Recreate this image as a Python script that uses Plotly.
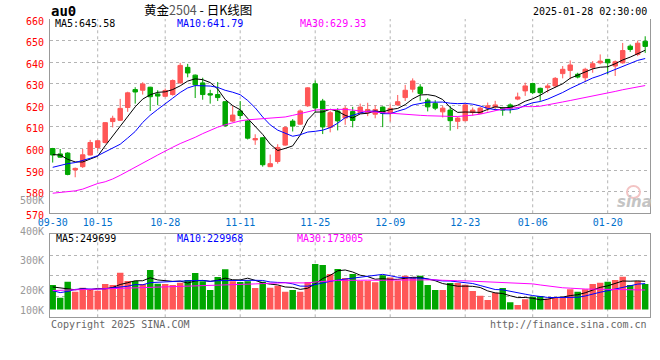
import plotly.graph_objects as go

# ---------------- data ----------------
tick_labels = ["09-30", "10-15", "10-28", "11-11", "11-25", "12-09", "12-23", "01-06", "01-20"]
tick_index = [0, 6, 15, 25, 35, 45, 55, 64, 74]

open_ = [600.0, 597.5, 597.9, 590.1, 591.6, 597.0, 600.5, 602.8, 612.5, 613.1,
         619.0, 627.3, 627.0, 628.4, 625.3, 624.2, 625.0, 630.4, 637.6, 634.0,
         630.4, 625.4, 625.0, 621.7, 612.7, 617.4, 612.8, 604.0, 605.0, 591.6,
         594.0, 601.6, 612.7, 611.3, 619.8, 630.0, 622.0, 609.8, 617.4, 614.1,
         617.1, 616.6, 616.6, 615.9, 619.2, 616.3, 620.2, 623.6, 627.5, 628.5,
         622.4, 620.9, 617.0, 617.8, 612.6, 612.9, 616.7, 616.3, 618.7, 619.3,
         618.7, 620.2, 622.9, 626.7, 630.1, 627.9, 628.2, 629.0, 634.7, 636.2,
         634.4, 632.8, 637.4, 639.7, 641.3, 638.2, 639.7, 647.4, 643.6, 649.7]
high = [600.3, 599.8, 598.3, 591.2, 599.8, 604.0, 603.9, 612.2, 615.2, 623.0,
        626.3, 628.4, 630.7, 628.6, 627.0, 627.8, 632.0, 639.7, 639.2, 634.3,
        632.8, 627.2, 630.8, 622.0, 619.8, 622.0, 613.2, 606.6, 605.3, 597.2,
        602.0, 610.3, 613.6, 618.1, 628.4, 631.5, 623.0, 617.5, 618.7, 619.8,
        619.3, 620.8, 621.2, 620.0, 619.5, 620.4, 624.8, 629.5, 632.5, 629.8,
        623.3, 622.4, 619.8, 619.8, 614.7, 620.6, 619.0, 619.3, 621.3, 622.1,
        619.3, 620.9, 625.9, 630.5, 630.5, 628.2, 630.1, 633.1, 638.2, 640.8,
        635.1, 637.4, 640.5, 643.6, 641.5, 640.8, 648.9, 648.2, 650.0, 652.0]
low = [593.5, 595.8, 587.6, 586.7, 591.0, 596.8, 599.0, 602.3, 609.8, 612.8,
       617.0, 620.8, 625.0, 617.4, 620.1, 623.8, 624.5, 630.0, 633.0, 623.4,
       622.6, 620.8, 622.0, 610.1, 612.3, 613.6, 604.2, 601.7, 591.6, 591.4,
       593.0, 601.3, 607.9, 611.0, 619.3, 616.7, 606.7, 607.5, 608.4, 611.0,
       609.8, 616.0, 615.0, 614.0, 609.9, 612.5, 619.8, 622.0, 626.0, 622.1,
       617.2, 617.8, 614.4, 608.3, 609.0, 612.6, 615.2, 616.0, 617.2, 617.5,
       615.2, 616.3, 622.4, 624.4, 625.2, 622.1, 625.9, 628.2, 632.5, 632.1,
       632.5, 631.0, 635.1, 639.0, 634.4, 633.6, 639.3, 644.8, 642.8, 644.3]
close = [597.0, 596.0, 588.0, 590.8, 597.1, 602.8, 603.6, 612.0, 614.0, 618.6,
         625.8, 626.2, 629.9, 624.0, 624.3, 626.9, 631.5, 638.5, 635.0, 629.5,
         625.0, 624.8, 623.6, 610.6, 615.5, 615.3, 604.8, 604.6, 592.5, 593.0,
         600.5, 609.7, 610.4, 617.4, 628.1, 618.8, 610.0, 616.6, 612.8, 618.6,
         613.0, 619.2, 618.1, 618.1, 616.3, 618.6, 621.7, 627.0, 631.3, 625.5,
         619.3, 618.7, 618.7, 612.9, 614.1, 620.2, 617.8, 618.7, 619.8, 620.2,
         617.8, 618.7, 623.9, 629.0, 625.9, 625.9, 629.0, 632.5, 636.7, 638.7,
         633.1, 636.7, 639.3, 640.5, 639.7, 640.2, 645.4, 645.9, 648.8, 647.3]
volume = [217, 105, 247, 158, 193, 173, 166, 226, 217, 326,
          253, 253, 226, 350, 229, 226, 217, 238, 262, 324,
          250, 173, 288, 357, 250, 244, 250, 191, 247, 193,
          210, 158, 173, 158, 244, 404, 395, 315, 359, 279,
          315, 253, 253, 242, 303, 284, 255, 299, 288, 299,
          217, 173, 173, 235, 235, 220, 164, 122, 84, 148,
          191, 64, 40, 91, 114, 120, 95, 111, 111, 180,
          158, 180, 226, 238, 247, 262, 291, 217, 253, 226]
volume = [v * 1000 for v in volume]

# moving-average values before enough bars exist in view
ma5_head = [597.2, 597.0, 595.0, 593.8]
ma10_head = [591.3, 592.3, 593.0, 593.5, 594.4, 595.5, 596.7, 598.5, 600.0]
ma30_head = [579.3, 579.7, 580.0, 580.4, 581.2, 582.6, 583.8, 584.6, 585.9, 587.6,
             589.4, 591.4, 593.3, 595.1, 597.0, 598.9, 600.6, 602.3, 603.7, 605.2,
             606.9, 608.4, 609.9, 611.0, 612.0, 612.8, 613.3, 613.6, 613.8]
vma5_head = [200000, 192000, 178000, 175000]
vma10_head = [167000, 150000, 160000, 178000, 183000, 180000, 180000, 185000, 192000]
vma30_head = [168000, 170000, 172000, 174000, 176000, 178000, 180000, 181000, 183000, 185000,
              187000, 189000, 191000, 193000, 195000, 197000, 199000, 201000, 203000, 205000,
              207000, 209000, 212000, 215000, 218000, 221000, 224000, 227000, 230000]

ma_text = ["MA5:645.58", "MA10:641.79", "MA30:629.33"]
vma_text = ["MA5:249699", "MA10:229968", "MA30:173005"]
price_ticks = [570, 580, 590, 600, 610, 620, 630, 640, 650, 660]


def moving_avg(vals, n, head):
    out = list(head)
    for i in range(n - 1, len(vals)):
        out.append(sum(vals[i - n + 1:i + 1]) / n)
    return out


n = len(close)
xs = list(range(n))
ma5 = moving_avg(close, 5, ma5_head)
ma10 = moving_avg(close, 10, ma10_head)
ma30 = moving_avg(close, 30, ma30_head)
vma5 = moving_avg(volume, 5, vma5_head)
vma10 = moving_avg(volume, 10, vma10_head)
vma30 = moving_avg(volume, 30, vma30_head)

RED = "#ff5757"
GREEN = "#00a600"
MONO = "DejaVu Sans Mono"
W, H = 660, 360


def px_x(p):
    return p / W


def px_y(p):
    return 1 - p / H


fig = go.Figure()

fig.add_trace(go.Candlestick(
    x=xs, open=open_, high=high, low=low, close=close,
    increasing=dict(line=dict(color=RED, width=1), fillcolor=RED),
    decreasing=dict(line=dict(color=GREEN, width=1), fillcolor=GREEN),
    xaxis="x", yaxis="y", hoverinfo="skip"))

for vals, col in [(ma5, "#000000"), (ma10, "#0000ff"), (ma30, "#ff00ff")]:
    fig.add_trace(go.Scatter(x=xs, y=vals, mode="lines", line=dict(color=col, width=1),
                             xaxis="x", yaxis="y", hoverinfo="skip"))

bar_colors = [RED if c >= o else GREEN for o, c in zip(open_, close)]
fig.add_trace(go.Bar(x=xs, y=volume, marker=dict(color=bar_colors, line=dict(width=0)),
                     xaxis="x2", yaxis="y2", hoverinfo="skip"))
for vals, col in [(vma5, "#000000"), (vma10, "#0000ff"), (vma30, "#ff00ff")]:
    fig.add_trace(go.Scatter(x=xs, y=vals, mode="lines", line=dict(color=col, width=1),
                             xaxis="x2", yaxis="y2", hoverinfo="skip"))

xr = [-0.36, 79.64]
xdom = [px_x(50), px_x(650)]
vr = [-69200, 667000]
vq = (vr[1] - vr[0]) / 4
grid = dict(showgrid=True, gridcolor="#b4b4b4", griddash="dot", gridwidth=1)

fig.update_layout(
    template="none",
    width=W, height=H, margin=dict(l=0, r=0, t=0, b=0, pad=0, autoexpand=False),
    paper_bgcolor="white", plot_bgcolor="white", showlegend=False,
    hovermode=False, boxgap=0.15, bargap=0.14,
    xaxis=dict(domain=xdom, range=xr, anchor="y", tickvals=tick_index, ticktext=tick_labels,
               tickfont=dict(family=MONO, size=10, color="#0070cc"), ticks="",
               showgrid=False, zeroline=False, showline=True, linecolor="#999999",
               rangeslider=dict(visible=False), automargin=False),
    yaxis=dict(domain=[px_y(213.3), px_y(19)], range=[570, 660], anchor="x",
               tickvals=price_ticks, tickfont=dict(family=MONO, size=10, color="#ff0000"),
               ticks="", ticklabelstandoff=3, ticklabelshift=2, zeroline=False,
               showline=True, mirror=True, linecolor="#999999", automargin=False, **grid),
    xaxis2=dict(domain=xdom, range=xr, anchor="y2", showticklabels=False, ticks="",
                showgrid=False, zeroline=False, showline=True, mirror=True, linecolor="#999999",
                automargin=False),
    yaxis2=dict(domain=[px_y(317.3), px_y(234.3)], range=vr, anchor="x2",
                tickvals=[vr[0] + vq, vr[0] + 2 * vq, vr[0] + 3 * vq], showticklabels=False,
                ticks="", zeroline=False, showline=True, mirror=True, linecolor="#999999",
                automargin=False, **grid),
)

shapes = []
for t in tick_index[1:]:
    for xref, yref in [("x", "y domain"), ("x2", "y2 domain")]:
        shapes.append(dict(type="line", xref=xref, yref=yref, x0=t, x1=t, y0=0, y1=1,
                           line=dict(color="#b4b4b4", width=1, dash="dot"), layer="below"))
# faint sina logo eye
shapes.append(dict(type="circle", xref="paper", yref="paper",
                   x0=px_x(627), x1=px_x(640), y0=px_y(198), y1=px_y(186),
                   line=dict(color="#f3c4c4", width=2), fillcolor="rgba(0,0,0,0)"))
fig.update_layout(shapes=shapes)


def ann(text, x, y, color="#000000", size=10, anchor="left", family=MONO):
    fig.add_annotation(text=text, x=px_x(x), y=px_y(y), xref="paper", yref="paper",
                       xanchor=anchor, yanchor="middle", showarrow=False,
                       font=dict(family=family, size=size, color=color))


ann("<b>au0</b>", 49, 11, size=14)
ann("黄金<span style='color:#555555'>2504</span> - 日K线图", 198, 9.5, size=12.5,
    anchor="center", family="Noto Sans CJK SC")
ann("2025-01-28 02:30:00", 649, 12, anchor="right")
ann(ma_text[0], 53, 24, "#000000")
ann(ma_text[1], 175, 24, "#0000ff")
ann(ma_text[2], 298, 24, "#ff00ff")
ann(vma_text[0], 54, 238, "#000000")
ann(vma_text[1], 175, 238, "#0000ff")
ann(vma_text[2], 295, 238, "#ff00ff")
ann("500K", 46, 200.5, "#999999", anchor="right")
for lab, yy in [("400K", 231), ("300K", 260.7), ("200K", 290), ("100K", 310)]:
    ann(lab, 46, yy, "#999999", anchor="right")
ann("Copyright 2025 SINA.COM", 49, 324, "#666666")
ann("http://finance.sina.com.cn", 649, 324, "#666666", anchor="right")
ann("<b><i>sina</i></b>", 634, 202, "#c4c4c4", size=15, anchor="center", family="DejaVu Sans")

fig.write_html("out.html", config={"displayModeBar": False, "staticPlot": True},
               post_script="document.body.style.margin='0';")
